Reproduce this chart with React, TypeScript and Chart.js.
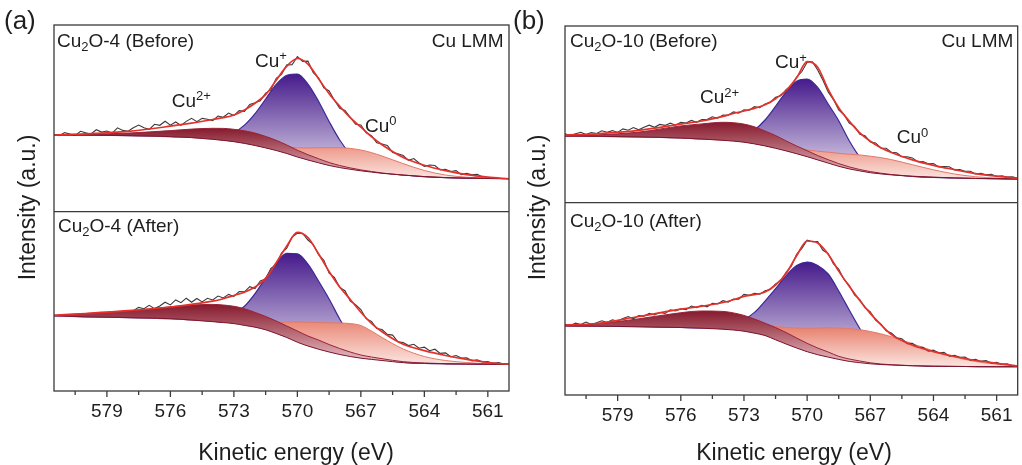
import React, { useEffect, useRef } from 'react';
import { Chart, registerables } from 'chart.js';

Chart.register(...registerables);

const fontFamily = '"Liberation Sans", Arial, Helvetica, sans-serif';

// ---------- shared energy grids (eV) ----------
const curveEnergy = [581.5, 580, 578, 576, 575, 574, 573.5, 573, 572.5, 572, 571.5, 571, 570.5, 570, 569.5, 569, 568.5, 568, 567.5, 567, 566.5, 566, 565, 564, 563, 562, 561, 560];
const spectrumStart = 581.5;
const spectrumStep = 0.25;
const spectrumCount = 87;
const spectrumEnergy = Array.from({ length: spectrumCount }, (_, i) => spectrumStart - spectrumStep * i);

const tickValues = [580.5, 579, 577.5, 576, 574.5, 573, 571.5, 570, 568.5, 567, 565.5, 564, 562.5, 561];
const tickLabels = ['', '579', '', '576', '', '573', '', '570', '', '567', '', '564', '', '561'];

// ---------- (a) Cu2O-4 Before ----------
const aTopBackground = [76.7, 76.5, 76.1, 75.1, 74.1, 72.4, 71.3, 70.0, 68.3, 66.2, 63.8, 61.2, 58.2, 54.7, 51.7, 48.9, 46.2, 44.1, 42.4, 40.9, 39.6, 38.4, 36.6, 35.1, 34.1, 33.6, 33.3, 33.1];
const aTopCu2 = [76.7, 77.3, 78.6, 81.1, 82.6, 83.4, 83.3, 82.4, 80.9, 78.6, 75.3, 71.4, 66.7, 61.5, 57.0, 53.0, 49.2, 46.2, 43.8, 41.8, 40.2, 38.7, 36.7, 35.1, 34.1, 33.6, 33.3, 33.1];
const aTopCu1 = [76.7, 76.5, 76.1, 75.1, 74.3, 74.0, 75.4, 79.2, 86.6, 98.1, 112.7, 127.3, 136.5, 137.7, 127.6, 110.5, 90.2, 71.7, 57.7, 48.4, 42.8, 39.6, 36.7, 35.1, 34.1, 33.6, 33.3, 33.1];
const aTopCu0 = [76.7, 76.5, 76.1, 75.1, 74.1, 72.5, 71.6, 70.5, 69.3, 67.9, 66.6, 65.7, 64.8, 63.9, 63.8, 64.0, 64.0, 64.0, 63.3, 61.7, 59.1, 55.7, 48.1, 41.2, 36.7, 34.5, 33.5, 33.1];
const aTopEnvelope = [76.7, 77.8, 80.3, 85.5, 88.6, 92.2, 94.0, 96.7, 101.8, 108.5, 117.0, 131.5, 145.5, 153.2, 147.5, 133.0, 118.0, 105.5, 94.0, 84.5, 75.0, 67.0, 54.3, 46.5, 41.0, 37.0, 34.5, 32.8];
const aTopSpectrum = [
  77.5, 76.0, 79.2, 77.6, 76.2, 80.4, 78.9, 77.7, 82.0, 79.6,
  80.7, 78.6, 83.9, 81.3, 80.5, 84.0, 86.6, 84.0, 82.4, 87.4,
  86.4, 90.4, 86.5, 89.7, 86.3, 90.3, 93.4, 90.1, 93.3, 92.5,
  91.1, 95.7, 94.4, 98.6, 96.1, 101.1, 100.4, 107.3, 109.0, 110.9,
  118.6, 121.8, 133.4, 137.2, 146.8, 147.0, 155.0, 150.3, 150.6, 139.1,
  133.9, 123.9, 120.7, 111.4, 103.4, 101.2, 94.4, 87.5, 86.8, 78.9,
  76.1, 69.0, 67.7, 66.2, 59.3, 58.0, 56.2, 51.4, 53.2, 48.7,
  45.3, 46.7, 46.2, 41.8, 42.4, 40.2, 41.1, 37.1, 38.3, 36.9,
  37.5, 34.7, null, null, null, null, null,
];

// ---------- (a) Cu2O-4 After ----------
const aBotBackground = [75.2, 74.2, 73.4, 72.3, 71.0, 69.3, 68.4, 67.4, 65.6, 63.8, 61.2, 57.5, 53.5, 48.8, 45.0, 41.8, 39.0, 36.5, 34.5, 32.8, 31.6, 30.5, 28.4, 27.6, 27.2, 27.0, 26.8, 26.7];
const aBotCu2 = [75.7, 77.5, 80.0, 84.2, 86.0, 86.6, 86.0, 84.7, 82.3, 78.6, 74.6, 70.0, 65.0, 60.0, 55.0, 51.0, 46.5, 42.5, 39.0, 36.0, 34.0, 32.3, 29.3, 28.0, 27.3, 27.0, 26.8, 26.7];
const aBotCu1 = [75.2, 74.2, 73.4, 72.3, 71.1, 71.0, 72.6, 77.0, 84.7, 97.4, 113.0, 127.8, 137.6, 137.2, 126.9, 110.0, 92.0, 72.0, 55.0, 42.5, 35.5, 32.0, 28.5, 27.6, 27.2, 27.0, 26.8, 26.7];
const aBotCu0 = [75.2, 74.2, 73.4, 72.3, 71.0, 69.6, 69.0, 68.5, 68.0, 67.5, 67.8, 68.3, 68.8, 69.0, 68.8, 68.4, 68.2, 68.0, 67.4, 65.5, 60.0, 53.5, 42.0, 34.5, 30.5, 28.5, 27.3, 26.8];
const aBotEnvelope = [75.7, 77.5, 80.3, 84.0, 86.6, 89.8, 92.3, 95.5, 98.8, 104.0, 112.6, 128.2, 145.0, 158.7, 153.4, 137.2, 119.5, 104.0, 91.5, 78.8, 67.7, 59.3, 46.8, 40.4, 35.5, 31.6, 28.5, 26.7];
const aBotSpectrum = [
  null, null, null, null, null, null, null, null, null, null,
  null, null, null, null, null, 80.3, 83.6, 82.3, 85.6, 82.4,
  85.0, 88.8, 86.1, 91.1, 88.3, 92.8, 88.8, 92.5, 89.1, 92.7,
  91.0, 94.9, 93.1, 96.6, 94.6, 99.5, 99.1, 104.3, 102.5, 110.1,
  112.0, 122.7, 126.3, 138.0, 142.8, 154.0, 157.6, 157.7, 151.0, 146.5,
  136.4, 130.8, 117.8, 113.6, 103.6, 100.3, 90.0, 86.4, 81.5, 72.3,
  69.5, 62.4, 61.5, 56.6, 55.9, 49.2, 48.4, 45.4, 46.7, 42.8,
  43.8, 40.3, 41.8, 37.6, 38.1, 34.2, 35.5, 33.0, 33.1, 30.2,
  31.3, 29.1, 29.5, 27.6, 28.4, 26.9, 26.9,
];

// ---------- (b) Cu2O-10 Before ----------
const bTopBackground = [66.7, 66.4, 65.8, 64.7, 63.7, 62.4, 61.6, 60.5, 58.8, 56.8, 54.4, 51.8, 49.0, 46.0, 42.8, 39.6, 36.4, 33.8, 31.8, 30.0, 28.8, 27.8, 26.3, 25.4, 24.8, 24.3, 24.0, 23.7];
const bTopCu2 = [66.7, 67.8, 70.6, 76.8, 78.8, 80.4, 80.0, 78.6, 75.9, 71.7, 67.2, 61.8, 56.7, 52.0, 47.2, 43.0, 39.1, 35.8, 33.2, 31.1, 29.5, 28.2, 26.5, 25.5, 24.8, 24.3, 24.0, 23.7];
const bTopCu1 = [66.7, 66.4, 65.8, 64.7, 63.8, 63.4, 64.3, 67.1, 72.8, 82.7, 96.3, 110.9, 121.5, 123.7, 115.3, 98.7, 82.0, 62.0, 45.8, 36.6, 31.5, 28.8, 26.4, 25.4, 24.8, 24.3, 24.0, 23.7];
const bTopCu0 = [66.7, 66.4, 65.8, 64.7, 63.7, 62.5, 61.9, 61.0, 59.7, 58.2, 56.6, 55.2, 53.8, 52.7, 51.5, 50.5, 49.4, 48.5, 47.8, 46.5, 45.1, 43.1, 38.0, 32.9, 28.7, 26.0, 24.6, 23.9];
const bTopEnvelope = [67.6, 68.9, 72.3, 78.5, 81.7, 86.4, 89.2, 91.7, 94.3, 97.9, 104.0, 112.2, 124.9, 141.0, 135.5, 113.3, 95.0, 81.6, 69.9, 61.5, 55.0, 50.2, 42.8, 37.3, 33.0, 29.0, 26.5, 24.3];
const bTopSpectrum = [
  68.8, 67.2, 68.9, 70.4, 68.1, 70.2, 69.2, 71.9, 70.5, 72.1,
  70.3, 73.8, 72.5, 75.2, 72.9, 75.5, 77.5, 75.4, 78.3, 77.3,
  79.5, 77.5, 80.3, 79.7, 82.3, 80.4, 83.1, 83.1, 85.9, 84.5,
  87.7, 87.4, 90.8, 89.6, 92.9, 92.5, 96.0, 95.0, 98.8, 100.3,
  105.4, 106.9, 113.0, 117.0, 125.5, 131.2, 140.5, 140.9, 132.7, 122.4,
  110.8, 103.1, 92.8, 87.9, 79.7, 76.3, 68.5, 66.9, 60.8, 59.8,
  54.7, 54.5, 50.4, 50.0, 45.9, 45.9, 44.8, 40.9, 41.2, 39.0,
  39.1, 35.8, 36.2, 36.0, 32.8, 33.2, 31.4, 31.5, 28.7, 29.3,
  28.0, 28.4, 26.1, 26.8, 25.7, 25.9, 24.3,
];

// ---------- (b) Cu2O-10 After ----------
const bBotBackground = [69.0, 68.8, 68.3, 67.5, 66.8, 65.8, 65.0, 63.8, 61.8, 59.5, 55.2, 51.0, 47.0, 43.3, 40.3, 37.9, 35.6, 33.6, 32.3, 31.2, 30.5, 30.0, 29.2, 28.8, 28.6, 28.4, 28.3, 28.3];
const bBotCu2 = [69.7, 71.1, 76.2, 82.3, 84.0, 83.6, 82.1, 79.6, 76.0, 71.8, 67.5, 62.5, 57.0, 51.7, 47.0, 43.0, 38.7, 36.0, 34.0, 32.2, 31.0, 30.3, 29.3, 28.8, 28.6, 28.4, 28.3, 28.3];
const bBotCu1 = [69.0, 68.8, 68.3, 67.5, 67.2, 68.3, 70.6, 75.2, 82.6, 93.9, 106.3, 119.3, 129.4, 132.9, 129.5, 121.0, 104.0, 85.0, 66.5, 51.0, 41.0, 35.0, 30.2, 28.8, 28.6, 28.4, 28.3, 28.3];
const bBotCu0 = [69.0, 68.8, 68.4, 68.0, 68.1, 68.7, 69.2, 69.6, 69.7, 69.9, 68.5, 67.6, 67.0, 66.7, 66.9, 67.3, 67.0, 66.3, 65.3, 63.5, 61.2, 58.3, 51.3, 44.1, 38.0, 33.5, 30.8, 29.4];
const bBotEnvelope = [70.0, 71.5, 78.5, 85.8, 88.8, 92.5, 95.3, 98.7, 100.3, 103.0, 110.0, 121.5, 139.2, 154.0, 152.0, 140.8, 123.9, 108.7, 94.5, 81.6, 70.3, 60.4, 49.8, 43.4, 38.5, 34.5, 31.7, 28.9];
const bBotSpectrum = [
  70.6, 69.3, 71.8, 70.4, 72.9, 70.5, 72.2, 74.2, 72.4, 75.2,
  73.8, 76.4, 78.4, 76.2, 79.4, 78.8, 81.7, 80.1, 82.5, 81.5,
  85.2, 84.0, 86.3, 85.3, 89.0, 87.4, 89.7, 88.2, 91.8, 91.1,
  94.3, 92.9, 95.9, 95.8, 100.6, 99.7, 101.8, 100.9, 104.3, 105.4,
  111.0, 114.1, 122.7, 128.9, 140.8, 146.6, 154.8, 153.2, 153.4, 144.7,
  141.4, 131.2, 125.8, 115.6, 109.8, 100.0, 95.4, 87.2, 83.1, 75.0,
  71.0, 64.1, 62.0, 57.3, 56.3, 51.4, 51.6, 47.8, 47.6, 43.8,
  44.8, 41.9, 42.7, 38.8, 39.6, 37.8, 38.0, 34.9, 35.7, 33.6,
  34.4, 31.7, 32.6, 30.6, 31.3, 29.3, 29.4,
];

// ---------- styling / layout ----------
type Sub = { bg: number[]; cu2: number[]; cu1: number[]; cu0: number[]; env: number[]; raw: (number | null)[]; max: number };
type Part = [string, 'n' | 'sub' | 'sup'];
type TextItem = { parts: Part[]; x: number; y: number; size: number; align?: 'left' | 'right' };

const cuPlus: Part[] = [['Cu', 'n'], ['+', 'sup']];
const cu2Plus: Part[] = [['Cu', 'n'], ['2+', 'sup']];
const cuZero: Part[] = [['Cu', 'n'], ['0', 'sup']];

const panels = [
  {
    key: 'a', left: 0, width: 515,
    padding: { left: 54, right: 6, top: 25, bottom: 0 }, axisHeight: 74,
    top: { bg: aTopBackground, cu2: aTopCu2, cu1: aTopCu1, cu0: aTopCu0, env: aTopEnvelope, raw: aTopSpectrum, max: 186.7 } as Sub,
    bottom: { bg: aBotBackground, cu2: aBotCu2, cu1: aBotCu1, cu0: aBotCu0, env: aBotEnvelope, raw: aBotSpectrum, max: 179.3 } as Sub,
    texts: [
      { parts: [['(a)', 'n']], x: 4, y: 29, size: 26 },
      { parts: [['Cu', 'n'], ['2', 'sub'], ['O-4 (Before)', 'n']], x: 57, y: 47, size: 19 },
      { parts: [['Cu LMM', 'n']], x: 503.5, y: 47, size: 19, align: 'right' },
      { parts: [['Cu', 'n'], ['2', 'sub'], ['O-4 (After)', 'n']], x: 58, y: 232, size: 19 },
      { parts: cuPlus, x: 255, y: 66.7, size: 19 },
      { parts: cu2Plus, x: 171.7, y: 106.7, size: 19 },
      { parts: cuZero, x: 365, y: 131.7, size: 19 },
    ] as TextItem[],
    xTitle: { x: 296, y: 459.5 },
    yTitle: { x: 29, y: 207.5 },
  },
  {
    key: 'b', left: 511, width: 511,
    padding: { left: 54, right: 0.5, top: 26, bottom: 0 }, axisHeight: 70,
    top: { bg: bTopBackground, cu2: bTopCu2, cu1: bTopCu1, cu0: bTopCu0, env: bTopEnvelope, raw: bTopSpectrum, max: 176.7 } as Sub,
    bottom: { bg: bBotBackground, cu2: bBotCu2, cu1: bBotCu1, cu0: bBotCu0, env: bBotEnvelope, raw: bBotSpectrum, max: 192.3 } as Sub,
    texts: [
      { parts: [['(b)', 'n']], x: 513, y: 29, size: 26 },
      { parts: [['Cu', 'n'], ['2', 'sub'], ['O-10 (Before)', 'n']], x: 570, y: 47, size: 19 },
      { parts: [['Cu LMM', 'n']], x: 1013.3, y: 47, size: 19, align: 'right' },
      { parts: [['Cu', 'n'], ['2', 'sub'], ['O-10 (After)', 'n']], x: 570, y: 227, size: 19 },
      { parts: cuPlus, x: 775, y: 68.3, size: 19 },
      { parts: cu2Plus, x: 700, y: 103.3, size: 19 },
      { parts: cuZero, x: 896.7, y: 143.3, size: 19 },
    ] as TextItem[],
    xTitle: { x: 794, y: 459.5 },
    yTitle: { x: 539, y: 207.5 },
  },
];

function pts(xs: number[], ys: (number | null)[]) {
  return xs.map((x, i) => ({ x, y: ys[i] }));
}

function gradientFill(chart: any, yId: string, hi: number, lo: number, c0: string, c1: string) {
  const scale = chart.scales[yId];
  if (!chart.chartArea || !scale) return c0;
  const y0 = scale.getPixelForValue(hi);
  const y1 = scale.getPixelForValue(lo);
  const g = chart.ctx.createLinearGradient(0, y0, 0, y1);
  g.addColorStop(0, c0);
  g.addColorStop(1, c1);
  return g;
}

function subplotDatasets(s: Sub, yId: string, base: number) {
  const lo = Math.min(...s.bg);
  const common = { yAxisID: yId, pointRadius: 0, cubicInterpolationMode: 'monotone' as const };
  return [
    { ...common, label: 'Envelope', data: pts(curveEnergy, s.env), borderColor: '#e5312b', borderWidth: 1.7, fill: false },
    { label: 'Spectrum', yAxisID: yId, pointRadius: 0, tension: 0, spanGaps: false, data: pts(spectrumEnergy, s.raw), borderColor: '#3a3a3a', borderWidth: 1.1, fill: false },
    { ...common, label: 'Background', data: pts(curveEnergy, s.bg), borderColor: '#7a1630', borderWidth: 1, fill: false },
    {
      ...common, label: 'Cu2+', data: pts(curveEnergy, s.cu2), borderColor: '#9a2337', borderWidth: 1, fill: base + 2,
      backgroundColor: (c: any) => gradientFill(c.chart, yId, Math.max(...s.cu2), lo, '#851a2d', '#efc6ca'),
    },
    {
      ...common, label: 'Cu0', data: pts(curveEnergy, s.cu0), borderColor: '#e2796a', borderWidth: 1, fill: base + 2,
      backgroundColor: (c: any) => gradientFill(c.chart, yId, Math.max(...s.cu0), lo, '#e77c69', '#fbe5e0'),
    },
    {
      ...common, label: 'Cu+', data: pts(curveEnergy, s.cu1), borderColor: '#3a2a98', borderWidth: 1.2, fill: base + 2,
      backgroundColor: (c: any) => gradientFill(c.chart, yId, Math.max(...s.cu1), lo, '#461a8b', '#e6e2f0'),
    },
  ];
}

function drawRich(ctx: CanvasRenderingContext2D, parts: Part[], x: number, y: number, size: number, align?: string) {
  const small = Math.round(size * 0.68);
  const fontOf = (k: string) => `${k === 'n' ? size : small}px ${fontFamily}`;
  let w = 0;
  for (const [t, k] of parts) {
    ctx.font = fontOf(k);
    w += ctx.measureText(t).width;
  }
  let cx = align === 'right' ? x - w : x;
  for (const [t, k] of parts) {
    ctx.font = fontOf(k);
    const dy = k === 'sub' ? 4 : k === 'sup' ? -6.5 : 0;
    ctx.fillText(t, cx, y + dy);
    cx += ctx.measureText(t).width;
  }
}

function decorPlugin(panel: any) {
  return {
    id: 'decor' + panel.key,
    afterDraw(chart: any) {
      const { ctx, chartArea: a, scales } = chart;
      ctx.save();
      ctx.strokeStyle = '#3a3a3a';
      ctx.lineWidth = 1.3;
      ctx.strokeRect(a.left, a.top, a.right - a.left, a.bottom - a.top);
      const yd = scales.yTop.bottom;
      ctx.beginPath();
      ctx.moveTo(a.left, yd);
      ctx.lineTo(a.right, yd);
      ctx.stroke();
      tickValues.forEach((v, i) => {
        const px = scales.x.getPixelForValue(v);
        const len = tickLabels[i] ? 6 : 4;
        ctx.beginPath();
        ctx.moveTo(px, a.bottom);
        ctx.lineTo(px, a.bottom + len);
        ctx.stroke();
      });
      ctx.fillStyle = '#1e1e1e';
      ctx.textAlign = 'left';
      ctx.textBaseline = 'alphabetic';
      for (const t of panel.texts as TextItem[]) {
        drawRich(ctx, t.parts, t.x - panel.left, t.y, t.size, t.align);
      }
      ctx.font = `23px ${fontFamily}`;
      ctx.textAlign = 'center';
      ctx.fillText('Kinetic energy (eV)', panel.xTitle.x - panel.left, panel.xTitle.y);
      ctx.save();
      ctx.translate(panel.yTitle.x - panel.left, panel.yTitle.y);
      ctx.rotate(-Math.PI / 2);
      ctx.textBaseline = 'middle';
      ctx.fillText('Intensity (a.u.)', 0, 0);
      ctx.restore();
      ctx.restore();
    },
  };
}

function PanelChart({ panel }: { panel: any }) {
  const ref = useRef<HTMLCanvasElement | null>(null);
  useEffect(() => {
    if (!ref.current) return;
    const chart = new Chart(ref.current, {
      type: 'line',
      data: {
        datasets: [
          ...subplotDatasets(panel.top, 'yTop', 0),
          ...subplotDatasets(panel.bottom, 'yBot', 6),
        ] as any,
      },
      options: {
        responsive: false,
        animation: false,
        devicePixelRatio: 1,
        events: [],
        layout: { padding: panel.padding },
        plugins: { legend: { display: false }, tooltip: { enabled: false } },
        elements: { point: { radius: 0 } },
        scales: {
          x: {
            type: 'linear', position: 'bottom', min: 560, max: 581.5, reverse: true,
            afterBuildTicks: (s: any) => { s.ticks = tickValues.map((v) => ({ value: v })); },
            afterFit: (s: any) => { s.height = panel.axisHeight; },
            grid: { display: false, drawTicks: false },
            border: { display: false },
            ticks: {
              autoSkip: false, maxRotation: 0, minRotation: 0, padding: 9.5, color: '#1e1e1e',
              font: { family: fontFamily, size: 19 },
              callback: (v: any) => { const i = tickValues.indexOf(Number(v)); return i >= 0 ? tickLabels[i] : ''; },
            },
          },
          yBot: { type: 'linear', display: false, min: 0, max: panel.bottom.max, stack: 'p', stackWeight: panel.bottom.max, weight: 1 },
          yTop: { type: 'linear', display: false, min: 0, max: panel.top.max, stack: 'p', stackWeight: panel.top.max, weight: 2 },
        },
      } as any,
      plugins: [decorPlugin(panel)],
    });
    return () => chart.destroy();
  }, [panel]);
  return (
    <canvas
      ref={ref}
      width={panel.width}
      height={465}
      style={{ position: 'absolute', left: panel.left, top: 0, width: panel.width, height: 465 }}
    />
  );
}

export default function App() {
  return (
    <div style={{ position: 'absolute', left: 0, top: 0, width: 1022, height: 465, background: '#ffffff', overflow: 'hidden' }}>
      {panels.map((p) => <PanelChart key={p.key} panel={p} />)}
    </div>
  );
}
